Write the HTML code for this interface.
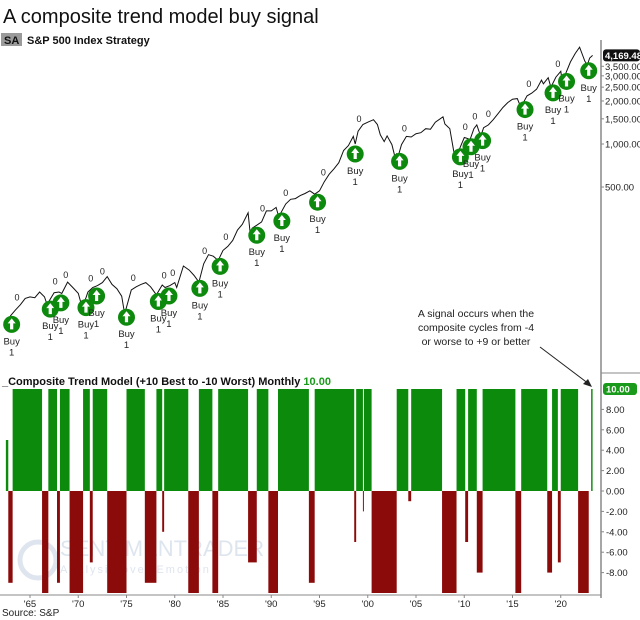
<!DOCTYPE html>
<html><head><meta charset="utf-8"><style>
body{margin:0;background:#fff;}
svg{display:block;font-family:"Liberation Sans",sans-serif;}
</style></head><body>
<svg id="chart" width="640" height="620" viewBox="0 0 640 620" xmlns="http://www.w3.org/2000/svg">
<rect width="640" height="620" fill="#fff"/>
<text x="3" y="23" font-size="20" fill="#111">A composite trend model buy signal</text>
<rect x="1" y="33" width="21" height="13" fill="#9a9a9a"/>
<text x="4" y="44" font-size="11" font-weight="bold" fill="#111">SA</text>
<text x="27" y="44" font-size="11" font-weight="bold" fill="#111">S&amp;P 500 Index  Strategy</text>
<text x="60" y="556" font-size="22" fill="#c8d4e4" opacity="0.6">SENTIMENTRADER</text>
<text x="60" y="573" font-size="11" fill="#c8d4e4" opacity="0.6" letter-spacing="2">Analysis over Emotion</text>
<circle cx="38" cy="560" r="18" fill="none" stroke="#c8d4e4" stroke-width="5" opacity="0.6"/>
<g id="bars"></g>
<g id="price"></g>
<line x1="601" y1="40" x2="601" y2="598" stroke="#888" stroke-width="1.5"/>
<line x1="601" y1="373" x2="640" y2="373" stroke="#888" stroke-width="1"/>
<line x1="0" y1="595" x2="601" y2="595" stroke="#888" stroke-width="1"/>
<g id="axes"></g>
<text x="2" y="385" font-size="11" font-weight="bold" fill="#111">_Composite Trend Model (+10 Best to -10 Worst) Monthly <tspan fill="#1a9a1a">10.00</tspan></text>
<g font-size="10.5" fill="#222" text-anchor="middle">
<text x="476" y="317">A signal occurs when the</text>
<text x="476" y="331">composite cycles from -4</text>
<text x="476" y="345">or worse to +9 or better</text>
</g>
<line x1="540" y1="347" x2="589" y2="384" stroke="#222" stroke-width="1"/>
<polygon points="592,387 583,384 588,379" fill="#222"/>
<text x="2" y="616" font-size="10" fill="#222">Source: S&amp;P</text>
</svg>
<script>
const priceYears=[1962.5,1963,1963.5,1964,1964.5,1965,1965.5,1966,1966.5,1966.8,1967,1967.5,1968,1968.3,1968.9,1969.5,1970,1970.4,1970.8,1971,1971.5,1972,1972.5,1973,1973.5,1974,1974.5,1974.8,1975,1975.5,1976,1976.5,1977,1977.5,1978.1,1978.7,1979,1979.5,1980,1980.2,1980.9,1981.5,1982,1982.5,1983,1983.5,1984,1984.5,1985,1985.5,1986,1986.5,1987,1987.6,1987.85,1988,1988.5,1989,1989.5,1990,1990.5,1990.8,1991,1991.5,1992,1992.5,1993,1993.5,1994,1994.5,1995,1995.5,1996,1996.5,1997,1997.5,1998,1998.5,1998.7,1999,1999.5,2000,2000.6,2001,2001.3,2001.7,2002,2002.5,2002.8,2003,2003.2,2003.5,2004,2004.5,2005,2005.5,2006,2006.5,2007,2007.8,2008,2008.5,2008.9,2009.2,2009.5,2010,2010.4,2010.5,2011,2011.3,2011.7,2012,2012.5,2013,2013.5,2014,2014.5,2015,2015.5,2015.7,2016.1,2016.5,2017,2017.5,2018,2018.2,2018.7,2018.98,2019.5,2020,2020.2,2020.5,2021,2021.5,2021.95,2022.3,2022.5,2022.75,2023,2023.3];
const priceValues=[55,63,69,75,83,85,84,92,85,74,80,91,92,90,108,98,90,72,84,92,99,102,107,118,104,97,86,65,72,95,100,104,107,100,88,103,99,102,107,99,140,131,120,108,145,168,164,153,180,192,211,250,274,330,225,257,270,285,340,340,360,305,330,380,410,415,435,450,470,445,470,545,615,670,740,900,975,1130,1000,1230,1370,1420,1480,1370,1160,1040,1140,990,820,855,840,990,1130,1120,1180,1200,1280,1270,1420,1550,1380,1280,900,740,920,1110,1090,1030,1280,1360,1130,1300,1360,1480,1630,1800,1950,2060,2080,1920,1930,2170,2270,2420,2800,2640,2910,2500,2940,3230,2580,3100,3750,4300,4760,4130,3790,3580,4000,4169];
const signalYears=[1963.1,1967.1,1968.2,1970.8,1971.9,1975.0,1978.3,1979.4,1982.6,1984.7,1988.5,1991.1,1994.8,1998.7,2003.3,2009.6,2010.7,2011.9,2016.3,2019.2,2020.6,2022.9];
const zeroYears=[1963.65,1967.6,1968.7,1971.3,1972.5,1975.7,1978.9,1979.8,1983.1,1985.3,1989.1,1991.5,1995.4,1999.1,2003.8,2010.1,2011.1,2012.5,2016.7,2019.7];
const segStart=[1962.5,1962.75,1963.2,1966.25,1966.9,1967.8,1968.1,1969.1,1970.5,1971.2,1971.5,1973.0,1975.0,1976.9,1978.1,1978.7,1978.9,1981.4,1982.5,1983.9,1984.5,1987.6,1988.5,1989.7,1990.7,1993.9,1994.5,1998.6,1998.8,1999.5,1999.6,2000.4,2003.0,2004.2,2004.5,2007.7,2009.2,2010.1,2010.4,2011.3,2011.9,2015.3,2015.9,2018.6,2019.1,2019.7,2020.0,2021.8,2023.15];
const segEnd=[1962.75,1963.2,1966.25,1966.9,1967.8,1968.1,1969.1,1970.5,1971.2,1971.5,1973.0,1975.0,1976.9,1978.1,1978.7,1978.9,1981.4,1982.5,1983.9,1984.5,1987.6,1988.5,1989.7,1990.7,1993.9,1994.5,1998.6,1998.8,1999.5,1999.6,2000.4,2003.0,2004.2,2004.5,2007.7,2009.2,2010.1,2010.4,2011.3,2011.9,2015.3,2015.9,2018.6,2019.1,2019.7,2020.0,2021.8,2022.9,2023.3];
const segValue=[5,-9,10,-10,10,-9,10,-10,10,-7,10,-10,10,-9,10,-4,10,-10,10,-10,10,-7,10,-10,10,-9,10,-5,10,-2,10,-10,10,-1,10,-10,10,-5,10,-8,10,-10,10,-8,10,-7,10,-10,10];
const priceTicks=[500,1000,1500,2000,2500,3000,3500];
const priceTickLabels=["500.00","1,000.00","1,500.00","2,000.00","2,500.00","3,000.00","3,500.00"];
const compTicks=[8,6,4,2,0,-2,-4,-6,-8];
const compTickLabels=["8.00","6.00","4.00","2.00","0.00","-2.00","-4.00","-6.00","-8.00"];
const xTickYears=[1965,1970,1975,1980,1985,1990,1995,2000,2005,2010,2015,2020];
const xTickLabels=["'65","'70","'75","'80","'85","'90","'95","'00","'05","'10","'15","'20"];
const lastPrice=4169.48, lastComp=10;

const NS="http://www.w3.org/2000/svg";
function xS(y){return 30+(y-1965)*9.65;}
function pY(p){return 144-43*Math.log2(p/1000);}
function cY(v){return 491-v*10.2;}
function mk(tag,attrs,parent){const e=document.createElementNS(NS,tag);for(const k in attrs)e.setAttribute(k,attrs[k]);parent.appendChild(e);return e;}
function priceAt(y){for(let i=1;i<priceYears.length;i++){if(y<=priceYears[i]){const t=(y-priceYears[i-1])/(priceYears[i]-priceYears[i-1]);return Math.exp(Math.log(priceValues[i-1])*(1-t)+Math.log(priceValues[i])*t);}}return priceValues[priceValues.length-1];}

const bars=document.getElementById('bars');
for(let i=0;i<segStart.length;i++){
  const v=segValue[i];const x0=xS(segStart[i]),x1=xS(segEnd[i]);
  const r=mk('rect',{x:x0,y:Math.min(cY(0),cY(v)),width:Math.max(0.8,x1-x0),height:Math.abs(cY(v)-cY(0)),fill:v>=0?'#0b8a0b':'#8b0a0a'},bars);
  
  
}
const price=document.getElementById('price');
const pts=priceYears.map((y,i)=>xS(y).toFixed(1)+','+pY(priceValues[i]).toFixed(1)).join(' ');
const line=mk('polyline',{points:pts,fill:'none',stroke:'#111','stroke-width':1},price);


zeroYears.forEach(y=>{
  const t=mk('text',{x:xS(y),y:pY(priceAt(y))-8,'font-size':9,'text-anchor':'middle',fill:'#222'},price);
  t.textContent='0';
  
  
});
signalYears.forEach(y=>{
  const cx=xS(y),cy=pY(priceAt(y))+10;
  const g=mk('g',{},price);
  
  
  mk('circle',{cx:cx,cy:cy,r:8.5,fill:'#0d8a0d'},g);
  mk('path',{d:`M${cx} ${cy-6} L${cx+4} ${cy-1} L${cx+1.6} ${cy-1} L${cx+1.6} ${cy+5} L${cx-1.6} ${cy+5} L${cx-1.6} ${cy-1} L${cx-4} ${cy-1} Z`,fill:'#fff'},g);
  const t1=mk('text',{x:cx,y:cy+20,'font-size':9.5,'text-anchor':'middle',fill:'#222'},g);t1.textContent='Buy';
  const t2=mk('text',{x:cx,y:cy+31,'font-size':9.5,'text-anchor':'middle',fill:'#222'},g);t2.textContent='1';
});
const axes=document.getElementById('axes');
priceTicks.forEach((p,i)=>{
  mk('line',{x1:601,x2:604,y1:pY(p),y2:pY(p),stroke:'#888'},axes);
  const t=mk('text',{x:605,y:pY(p)+3.5,'font-size':9.5,fill:'#222'},axes);t.textContent=priceTickLabels[i];
  
  
});
mk('rect',{x:603,y:pY(lastPrice)-6,width:37,height:12,rx:3,fill:'#111'},axes);
const lp=mk('text',{x:605,y:pY(lastPrice)+3.5,'font-size':9.5,'font-weight':'bold',fill:'#fff'},axes);lp.textContent='4,169.48';


compTicks.forEach((v,i)=>{
  mk('line',{x1:601,x2:604,y1:cY(v),y2:cY(v),stroke:'#888'},axes);
  const t=mk('text',{x:606,y:cY(v)+3.5,'font-size':9.5,fill:'#222'},axes);t.textContent=compTickLabels[i];
  
  
});
mk('rect',{x:603,y:cY(lastComp)-6,width:34,height:12,rx:3,fill:'#1a9a1a'},axes);
const lc=mk('text',{x:606,y:cY(lastComp)+3.5,'font-size':9.5,'font-weight':'bold',fill:'#fff'},axes);lc.textContent='10.00';


xTickYears.forEach((y,i)=>{
  mk('line',{x1:xS(y),x2:xS(y),y1:595,y2:598,stroke:'#888'},axes);
  const t=mk('text',{x:xS(y),y:607,'font-size':9.5,'text-anchor':'middle',fill:'#222'},axes);t.textContent=xTickLabels[i];
  
  
});
</script>
</body></html>
